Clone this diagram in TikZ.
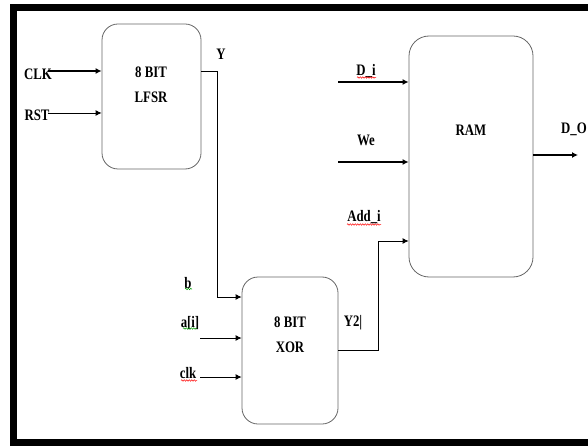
\documentclass[tikz,border=0pt]{standalone}
\usepackage{fontspec}
\setmainfont[FakeStretch=0.8]{Liberation Serif}
\usetikzlibrary{arrows.meta,positioning,decorations.pathmorphing}

\begin{document}
\begin{tikzpicture}[
    x=1pt,y=-1pt,
    >={Latex[length=6pt,width=6pt]},
    blk/.style={draw=black!60,line width=0.8pt,rounded corners=16pt,inner sep=0pt},
    txt/.style={font=\fontsize{16}{25}\selectfont\bfseries,inner sep=1pt,align=center},
    wire/.style={draw,->,line width=0.9pt},
    bus/.style={wire,line width=1.5pt},
    squig/.style={draw=#1,line width=0.5pt,decorate,decoration={snake,amplitude=0.7pt,segment length=2.5pt}}
  ]
    \useasboundingbox (0,0) rectangle (588,446);
    \draw[line width=7pt] (600,8) -- (13,8) -- (13,442) -- (600,442);

    % blocks
    \node[blk,minimum width=99pt,minimum height=145pt] (lfsr) at (151.5,96.5) {};
    \node[blk,minimum width=96pt,minimum height=147pt] (xor) at (290,350.5) {};
    \node[blk,rounded corners=20pt,minimum width=124pt,minimum height=241pt] (ram) at (471,156.5) {};
    \node[txt] (lfsrtxt) at (151,85) {8 BIT\\LFSR};
    \node[txt] (xortxt) at (290,335) {8 BIT\\XOR};
    \node[txt] (ramtxt) at (471,130) {RAM};

    % signal names
    \node[txt] (clklbl) at (38,74) {CLK};
    \node[txt] (rstlbl) at (37,115) {RST};
    \node[txt] (ylbl) at (221,54) {Y};
    \node[txt] (blbl) at (188,283) {b};
    \node[txt] (ailbl) at (190,323) {a[i]};
    \node[txt] (cklbl) at (188,373) {clk};
    \node[txt] (y2lbl) at (353,323) {Y2|};
    \node[txt] (addlbl) at (364,217) {Add\_i};
    \node[txt] (dilbl) at (366,71) {D\_i};
    \node[txt] (welbl) at (366,140) {We};
    \node[txt] (dolbl) at (574,129) {D\_O};

    % spelling marks
    \draw[squig=red] (357,77.5) -- (376,77.5);
    \draw[squig=red] (347,224.5) -- (381,224.5);
    \draw[squig=green!60!black] (185,289) -- (192,289);
    \draw[squig=green!60!black] (183,328.5) -- (197,328.5);
    \draw[squig=red] (181,380.5) -- (197,380.5);

    \coordinate (clkin) at (48,71);
    \coordinate (rstin) at (48,113);
    \coordinate (ybend) at (217,297);
    \coordinate (ain) at (200,338);
    \coordinate (ckin) at (200,377);
    \coordinate (y2bend) at (378,241);
    \coordinate (diin) at (338,82);
    \coordinate (wein) at (338,162);
    \coordinate (dout) at (578,155);

    % wires
    \draw[bus] (clkin) -- (clkin -| lfsr.west);
    \draw[wire] (rstin) -- (rstin -| lfsr.west);
    \draw[wire] (lfsr.east |- clkin) -| (ybend) -- (ybend -| xor.west);
    \draw[wire] (ain) -- (ain -| xor.west);
    \draw[wire] (ckin) -- (ckin -| xor.west);
    \draw[wire] (xor.east) -| (y2bend) -- (y2bend -| ram.west);
    \draw[bus] (diin) -- (diin -| ram.west);
    \draw[bus] (wein) -- (wein -| ram.west);
    \draw[bus] (ram.east |- dout) -- (dout);
\end{tikzpicture}
\end{document}
